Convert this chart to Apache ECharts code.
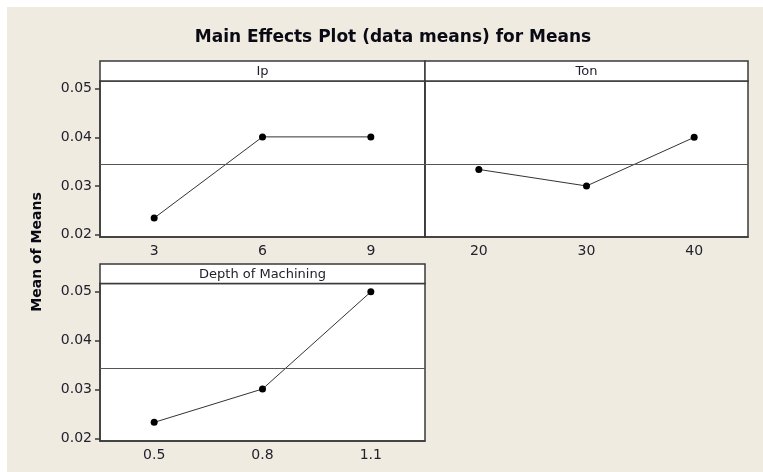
<!DOCTYPE html>
<html lang="en">
<head>
    <meta charset="UTF-8">
    <title>Main Effects Plot</title>
    <script src="https://cdn.jsdelivr.net/npm/echarts@6/dist/echarts.min.js"></script>
</head>
<body style="margin:0">
<div id="box" style="width: 763px;height: 472px;"></div>
<script>
    // factor levels (x categories)
    var ipLevels = ['3', '6', '9'];
    var tonLevels = ['20', '30', '40'];
    var depthLevels = ['0.5', '0.8', '1.1'];
    // mean of means at each level
    var ipMeans = [0.0234, 0.0401, 0.0401];
    var tonMeans = [0.0334, 0.0300, 0.0400];
    var depthMeans = [0.0233, 0.0301, 0.0499];
    var grandMean = 0.0344;
    var yTicks = [0.02, 0.03, 0.04, 0.05];

    var ink = '#22222e';
    var frame = '#3a3a3a';
    var myChart = echarts.init(document.getElementById('box'));

    function xAx(idx, levels) {
        return {
            type: 'category', gridIndex: idx, data: levels, boundaryGap: true,
            axisLine: {lineStyle: {color: frame, width: 1.5}},
            axisTick: {alignWithLabel: true, length: 5, lineStyle: {color: frame, width: 1.5}},
            axisLabel: {color: ink, fontSize: 14, fontFamily: 'DejaVu Sans', margin: 7}
        };
    }
    function yAx(idx, labels) {
        return {
            type: 'value', gridIndex: idx, min: 0.0195, max: 0.0516,
            splitLine: {show: false},
            axisLine: {show: true, lineStyle: {color: frame, width: 1.5}},
            axisTick: {show: labels, length: 5, customValues: yTicks, lineStyle: {color: frame, width: 1.5}},
            axisLabel: {show: labels, customValues: yTicks, color: ink, fontSize: 14, fontFamily: 'DejaVu Sans',
                margin: 8, formatter: function (v) { return v.toFixed(2); }}
        };
    }
    function ser(idx, vals) {
        return {
            type: 'line', xAxisIndex: idx, yAxisIndex: idx, data: vals,
            symbol: 'circle', symbolSize: 7, itemStyle: {color: '#000'},
            lineStyle: {color: '#333', width: 1}, animation: false,
            markLine: {silent: true, symbol: 'none', precision: 5, label: {show: false},
                lineStyle: {color: '#555', width: 1, type: 'solid'},
                data: [{yAxis: grandMean}]}
        };
    }
    function header(x, y, w, h, txt) {
        return [
            {type: 'rect', shape: {x: x, y: y, width: w, height: h},
                style: {fill: '#fff', stroke: frame, lineWidth: 1.5}},
            {type: 'text', x: x + w / 2, y: y + h / 2 + 1,
                style: {text: txt, fill: ink, font: '13px "DejaVu Sans"', textAlign: 'center', textVerticalAlign: 'middle'}}
        ];
    }

    var gridBase = {show: true, backgroundColor: '#fff', borderColor: frame, borderWidth: 1.5};
    var option = {
        backgroundColor: '#efebe1',
        animation: false,
        grid: [
            Object.assign({left: 100, width: 325, top: 81, height: 156}, gridBase),
            Object.assign({left: 425, width: 323, top: 81, height: 156}, gridBase),
            Object.assign({left: 100, width: 325, top: 283.5, height: 157.5}, gridBase)
        ],
        xAxis: [xAx(0, ipLevels), xAx(1, tonLevels), xAx(2, depthLevels)],
        yAxis: [yAx(0, true), yAx(1, false), yAx(2, true)],
        series: [ser(0, ipMeans), ser(1, tonMeans), ser(2, depthMeans)],
        graphic: [
            {type: 'rect', shape: {x: 0, y: 0, width: 763, height: 7}, style: {fill: '#fff'}},
            {type: 'rect', shape: {x: 0, y: 0, width: 7, height: 472}, style: {fill: '#fff'}},
            {type: 'text', x: 393, y: 38,
                style: {text: 'Main Effects Plot (data means) for Means', fill: '#0a0a14',
                    font: 'bold 17px "DejaVu Sans"', textAlign: 'center', textVerticalAlign: 'middle'}},
            {type: 'text', x: 37, y: 252, rotation: Math.PI / 2,
                style: {text: 'Mean of Means', fill: '#0a0a14',
                    font: 'bold 14px "DejaVu Sans"', textAlign: 'center', textVerticalAlign: 'middle'}}
        ].concat(header(100, 61, 325, 20, 'Ip'))
         .concat(header(425, 61, 323, 20, 'Ton'))
         .concat(header(100, 264, 325, 19.5, 'Depth of Machining'))
    };
    myChart.setOption(option);
</script>
</body>
</html>
